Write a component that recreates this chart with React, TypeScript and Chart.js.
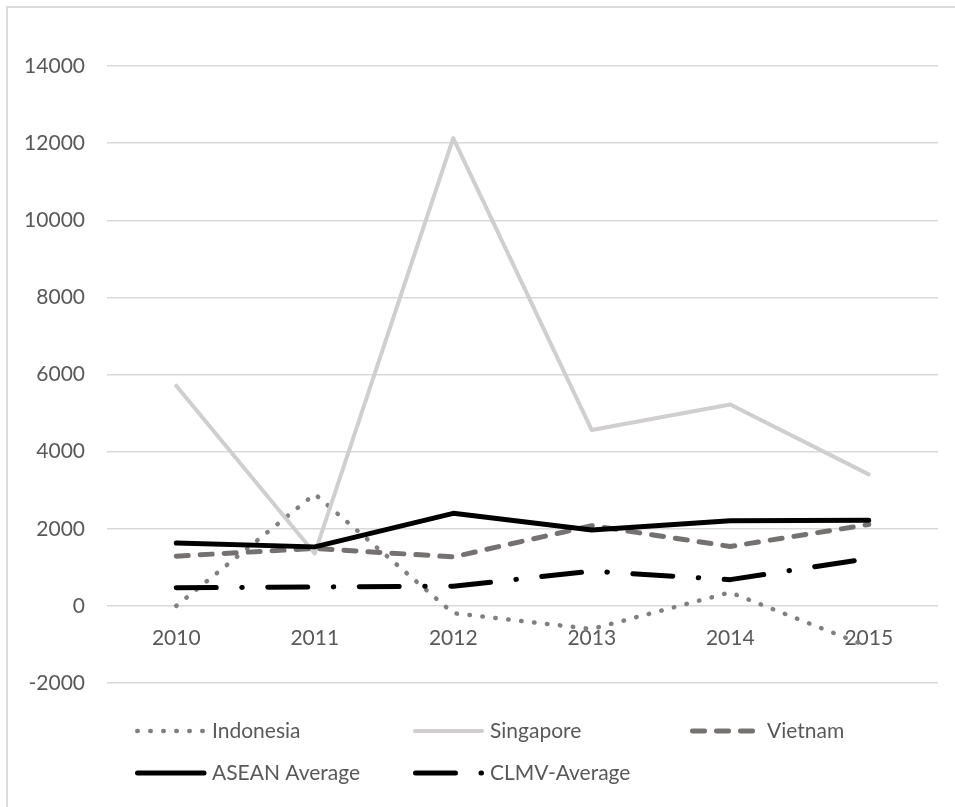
import React, { useEffect, useRef } from "react";
import { Chart, registerables } from "chart.js";

Chart.register(...registerables);

// Years on the category axis
const years = ["2010", "2011", "2012", "2013", "2014", "2015"];

// Series values
const indonesia = [0, 2900, -190, -600, 350, -1060];
const singapore = [5710, 1360, 12130, 4560, 5220, 3410];
const vietnam = [1290, 1490, 1270, 2080, 1540, 2110];
const aseanAverage = [1630, 1530, 2400, 1970, 2210, 2220];
const clmvAverage = [470, 490, 510, 900, 680, 1230];

// Value axis ticks
const yMin = -2000;
const yMax = 14000;
const yStep = 2000;

const FONT = "Lato, 'Open Sans', sans-serif";
const FONT_SIZE = 21;
const TEXT = "#595959";

type SeriesStyle = {
  label: string;
  data: number[];
  color: string;
  width: number;
  dash: number[];
};

const series: SeriesStyle[] = [
  { label: "Indonesia", data: indonesia, color: "#808080", width: 4.5, dash: [0.5, 12.5] },
  { label: "Singapore", data: singapore, color: "#d0cece", width: 4, dash: [] },
  { label: "Vietnam", data: vietnam, color: "#767171", width: 5, dash: [12, 12] },
  { label: "ASEAN Average", data: aseanAverage, color: "#000000", width: 5, dash: [] },
  { label: "CLMV-Average", data: clmvAverage, color: "#000000", width: 5, dash: [40, 25.5, 0.5, 25.5] },
];

// Legend grid: three columns, two rows under the plot
const legendCols = [135, 413, 690];
const legendRows = [731, 773];
const sampleLen = 70;
const textGap = 7;

const legendPlugin = {
  id: "gridLegend",
  afterDraw(chart: Chart) {
    const ctx = chart.ctx;
    ctx.save();
    series.forEach((s, i) => {
      const x = legendCols[i % 3];
      const y = legendRows[Math.floor(i / 3)];
      ctx.beginPath();
      ctx.strokeStyle = s.color;
      ctx.lineWidth = s.width;
      ctx.lineCap = "round";
      ctx.setLineDash(s.dash);
      ctx.moveTo(x + s.width / 2, y);
      ctx.lineTo(x + sampleLen - 1, y);
      ctx.stroke();
      ctx.setLineDash([]);
      ctx.fillStyle = TEXT;
      ctx.font = `${FONT_SIZE}px ${FONT}`;
      ctx.textAlign = "left";
      ctx.textBaseline = "middle";
      ctx.fillText(s.label, x + sampleLen + textGap, y);
    });
    ctx.restore();
  },
};

export default function App() {
  const canvasRef = useRef<HTMLCanvasElement | null>(null);

  useEffect(() => {
    const canvas = canvasRef.current;
    if (!canvas) return;
    const chart = new Chart(canvas, {
      type: "line",
      data: {
        labels: years,
        datasets: series.map((s, i) => ({
          label: s.label,
          data: s.data,
          borderColor: s.color,
          backgroundColor: s.color,
          borderWidth: s.width,
          borderDash: s.dash,
          borderCapStyle: "round" as const,
          borderJoinStyle: "round" as const,
          pointRadius: 0,
          pointHoverRadius: 0,
          tension: 0,
          fill: false,
          order: series.length - i,
        })),
      },
      options: {
        responsive: false,
        animation: false,
        layout: { padding: { left: 0, right: 17, top: 66, bottom: 124 } },
        plugins: {
          legend: { display: false },
          tooltip: { enabled: false },
          title: { display: false },
        },
        scales: {
          x: {
            type: "category",
            offset: true,
            position: { y: 0 } as any,
            grid: { display: false, drawTicks: false },
            border: { display: false },
            ticks: {
              color: TEXT,
              font: { family: FONT, size: FONT_SIZE },
              padding: 20,
              maxRotation: 0,
            },
          },
          y: {
            min: yMin,
            max: yMax,
            grid: { color: "#d9d9d9", lineWidth: 1.5, drawTicks: false },
            border: { display: false },
            ticks: {
              stepSize: yStep,
              color: TEXT,
              font: { family: FONT, size: FONT_SIZE },
              padding: 22,
              callback: (v: any) => String(v),
            },
            afterFit(scale: any) {
              scale.width = 107;
            },
          },
        },
      },
      plugins: [legendPlugin],
    });
    return () => chart.destroy();
  }, []);

  return (
    <div style={{ position: "fixed", left: 0, top: 0, width: 955, height: 807, background: "#ffffff", overflow: "hidden" }}>
      <div
        style={{
          position: "absolute",
          left: 6,
          top: 6,
          width: 970,
          height: 820,
          border: "2px solid #dcdcdc",
          boxSizing: "border-box",
        }}
      />
      <canvas ref={canvasRef} width={955} height={807} style={{ position: "absolute", left: 0, top: 0, display: "block" }} />
    </div>
  );
}
